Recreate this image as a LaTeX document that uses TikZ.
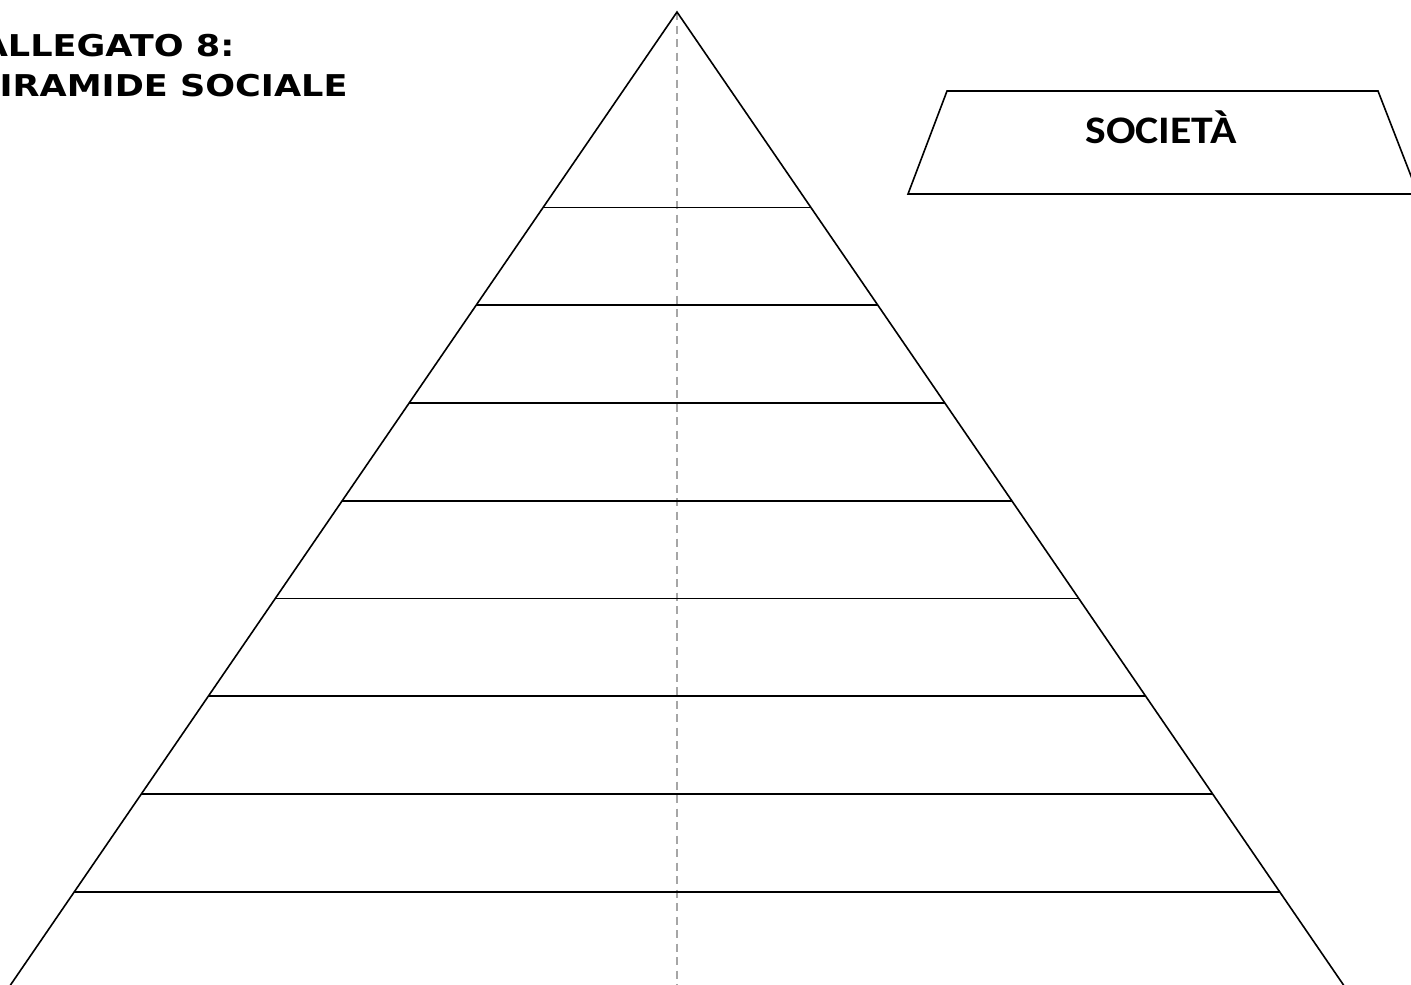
\documentclass[tikz,border=0pt]{standalone}
\usepackage{fontspec}
\setmainfont{DejaVu Sans}
\newfontfamily\titlefont[FakeStretch=1.17]{DejaVu Sans}
\newfontfamily\boxfont[FakeStretch=1.12]{Carlito}
\usetikzlibrary{calc}

\begin{document}
\begin{tikzpicture}[x=1pt,y=-1pt,line width=1.6pt,
      layer/.style={line width=1.6pt},
      axisline/.style={line width=1.6pt,gray!70,dash pattern=on 8pt off 5.5pt},
      titletext/.style={anchor=base west,inner sep=0pt,font=\titlefont\fontsize{30}{34}\selectfont\bfseries},
      boxtext/.style={inner sep=0pt,font=\boxfont\fontsize{39}{42}\selectfont\bfseries}]
      \useasboundingbox (0,0) rectangle (1411,985);
      \clip (0,0) rectangle (1411,985);
      % pyramid
      \coordinate (apex) at (677,12);
      \coordinate (baseL) at (7.4,989.5);
      \coordinate (baseR) at (1346.6,989.5);
      \draw[axisline] (apex)--(677,1000);
      \draw ($(apex)!1.1!(baseL)$)--(apex)--($(apex)!1.1!(baseR)$);
      \foreach \k in {1,...,8}
        \draw[layer] ($(apex)!{(\k+1)*0.1}!(baseL)$)--($(apex)!{(\k+1)*0.1}!(baseR)$);
      % title
      \node[titletext] (title1) at (-20,56) {ALLEGATO 8:};
      \node[titletext] (title2) at (-27,96) {PIRAMIDE SOCIALE};
      % label box
      \coordinate (tl) at (947,91); \coordinate (tr) at (1378,91);
      \coordinate (br) at (1418,194); \coordinate (bl) at (908,194);
      \draw (tl)--(tr)--(br)--(bl)--cycle;
      \node[boxtext,anchor=base] (societa) at (1161,143) {SOCIETÀ};
\end{tikzpicture}
\end{document}
